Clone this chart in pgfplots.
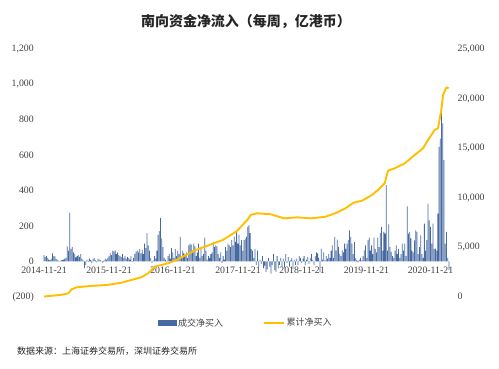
\documentclass[border=0pt]{standalone}
\usepackage{pgfplots}
\pgfplotsset{compat=1.18}
\usepackage{pgfplotstable}
\usepackage{fontspec}
\setmainfont{Liberation Serif}
\newfontfamily\cjk{Noto Sans CJK SC}
\definecolor{barblue}{RGB}{72,106,162}
\definecolor{linegold}{RGB}{255,190,0}
\definecolor{ticktext}{RGB}{64,64,64}

\pgfplotstableread[row sep=\\]{
v\\
35\\25\\30\\20\\10\\5\\15\\45\\30\\28\\12\\5\\4\\3\\5\\8\\10\\15\\20\\85\\60\\275\\70\\80\\50\\40\\22\\30\\35\\25\\40\\15\\5\\-38\\-20\\10\\-5\\15\\8\\-10\\12\\18\\5\\-6\\15\\10\\5\\2\\-8\\6\\15\\10\\20\\
30\\45\\35\\60\\55\\62\\40\\50\\35\\30\\25\\40\\20\\30\\15\\25\\20\\10\\30\\-5\\20\\40\\55\\60\\50\\70\\45\\65\\40\\100\\75\\160\\90\\60\\20\\-10\\5\\30\\15\\60\\150\\170\\245\\130\\80\\20\\10\\-5\\30\\40\\15\\75\\
50\\20\\70\\30\\60\\40\\138\\20\\60\\45\\30\\50\\20\\90\\100\\95\\60\\100\\85\\30\\50\\100\\20\\80\\30\\40\\134\\60\\10\\30\\20\\40\\50\\110\\80\\90\\85\\40\\20\\50\\-10\\30\\10\\80\\60\\100\\90\\80\\120\\90\\140\\110\\
175\\100\\150\\90\\120\\60\\120\\128\\140\\194\\204\\160\\70\\60\\20\\70\\-20\\60\\-30\\10\\-15\\30\\-40\\-25\\-60\\-45\\20\\-30\\-70\\-20\\40\\-50\\-60\\30\\-40\\-20\\20\\-30\\15\\-35\\40\\-10\\25\\-30\\5\\20\\-45\\10\\-20\\15\\-20\\30\\
20\\-10\\15\\30\\-20\\10\\25\\-15\\20\\40\\10\\-20\\30\\50\\45\\20\\-60\\72\\10\\50\\5\\30\\15\\40\\20\\60\\90\\20\\138\\60\\123\\81\\40\\30\\62\\50\\100\\70\\100\\120\\175\\138\\100\\40\\109\\20\\5\\-5\\10\\20\\5\\30\\
62\\90\\20\\120\\134\\60\\90\\40\\134\\70\\50\\134\\80\\160\\194\\60\\166\\157\\430\\60\\209\\81\\53\\30\\20\\60\\90\\40\\70\\20\\40\\100\\60\\100\\30\\311\\157\\166\\130\\60\\50\\119\\175\\166\\40\\80\\147\\40\\20\\213\\60\\120\\326\\232\\194\\100\\213\\70\\72\\60\\270\\647\\694\\840\\780\\572\\100\\166\\20\\-50\\
}\weekly

\pgfplotstableread{
w c
0 20
13 170
19.8 340
22.6 750
26.6 950
37.5 1080
51.1 1180
63 1410
71.1 1685
79.3 1955
84.8 2360
90.2 3030
95.6 3200
101 3370
109.2 3775
115.7 4210
123.9 4710
134.7 5220
145.6 5720
156.5 6560
161.9 7240
165.7 7740
168.5 8250
173.8 8420
184.8 8320
195.6 7910
206.4 8010
217.4 7910
229.3 8070
237.4 8420
245.6 8920
252.4 9490
259.2 9690
267.3 10270
272.2 10770
277.7 11440
279 12110
280.4 12720
285.8 12960
294 13460
302.1 14300
308.9 14980
313 15820
318.4 16830
321.1 17000
323.8 18840
325.2 20360
327.9 21130
329.8 21030
}\cumul

\begin{document}
\begin{tikzpicture}
\path[use as bounding box] (0pt,0pt) rectangle (499pt,368pt);
\begin{axis}[
  at={(40.3pt,71.3pt)}, anchor=south west, scale only axis,
  width=412.3pt, height=247.7pt,
  xmin=-3, xmax=333, ymin=-200, ymax=1200,
  axis line style={draw=none}, major tick length=0pt,
  xtick={0,53,105.1,158.1,210.3,262.8,315},
  xticklabels={2014-11-21,2015-11-21,2016-11-21,2017-11-21,2018-11-21,2019-11-21,2020-11-21},
  xticklabel style={yshift=33.2pt, font=\fontsize{9.8}{11}\selectfont, text=ticktext},
  ytick={-200,0,200,400,600,800,1000,1200},
  yticklabels={{(200)},0,200,400,600,800,{1,000},{1,200}},
  yticklabel style={font=\fontsize{9.8}{11}\selectfont, text=ticktext, xshift=-3pt},
  ybar, bar width=0.78pt, bar shift=0pt,
]
\addplot[fill=barblue, draw=none] table[x expr=\coordindex, y=v] {\weekly};
\end{axis}
\begin{axis}[
  at={(40.3pt,71.3pt)}, anchor=south west, scale only axis,
  width=412.3pt, height=247.7pt,
  xmin=-3, xmax=333, ymin=0, ymax=25000,
  axis x line=none, axis y line*=right,
  axis line style={draw=none}, major tick length=0pt,
  ytick={0,5000,10000,15000,20000,25000},
  yticklabels={0,{5,000},{10,000},{15,000},{20,000},{25,000}},
  scaled y ticks=false,
  yticklabel style={font=\fontsize{9.8}{11}\selectfont, text=ticktext, xshift=1.5pt},
  clip=false,
  legend style={at={(0.498,-0.106)}, anchor=center, draw=none, fill=none,
    legend columns=2, font=\cjk\fontsize{9}{11}\selectfont, text=ticktext,
    /tikz/every even column/.append style={column sep=38pt}},
  legend cell align=left,
]
\addlegendimage{legend image code/.code={\fill[barblue] (0pt,-2.5pt) rectangle (18pt,2.5pt);}}
\addlegendentry{成交净买入}
\addplot[linegold, line width=1.9pt, line join=round,
  legend image code/.code={\draw[linegold, line width=1.5pt] (0pt,0pt) -- (20pt,0pt);}]
  table[x=w, y=c] {\cumul};
\addlegendentry{累计净买入}
\end{axis}
\node[font=\cjk\bfseries\fontsize{14}{16}\selectfont, text=black!85] at (246pt,346.5pt) {南向资金净流入（每周，亿港币）};
\node[anchor=west, inner sep=0pt, font=\cjk\fontsize{9}{11}\selectfont, text=black!85] at (17pt,17pt) {数据来源：上海证券交易所，深圳证券交易所};
\end{tikzpicture}
\end{document}
